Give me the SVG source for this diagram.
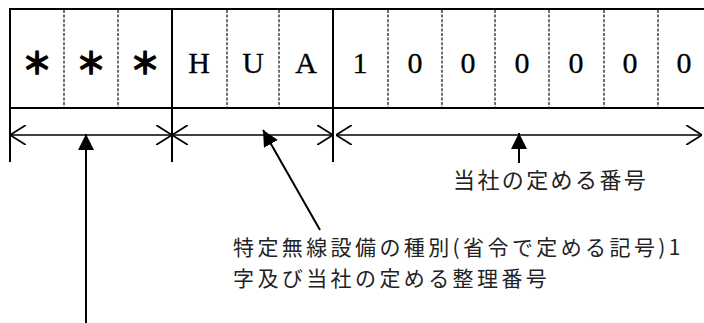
<svg xmlns="http://www.w3.org/2000/svg" width="704" height="323" viewBox="0 0 704 323">
<style>
.frame{stroke:#000;stroke-width:2;fill:none}
.dash{stroke:#222;stroke-width:1.3;stroke-dasharray:3 1.6;fill:none}
.dim{stroke:#000;stroke-width:1.6;fill:none}
.ptr{stroke:#000;stroke-width:2;fill:none}
.cell{font-family:"Liberation Serif","Noto Sans CJK JP",serif;font-size:30px;text-anchor:middle;fill:#000;stroke:#000;stroke-width:0.3}
.star{font-family:"Noto Sans CJK JP",sans-serif;font-size:30px;font-weight:bold;text-anchor:middle;fill:#000;stroke:#000;stroke-width:1.2}
.lbl{font-family:"Noto Sans CJK JP",sans-serif;font-size:21px;letter-spacing:3.4px;fill:#222}
.lbl1{font-family:"Noto Sans CJK JP",sans-serif;font-size:22px;letter-spacing:2.4px;fill:#222}
</style>
<defs>
<marker id="open" viewBox="0 0 16 20" refX="16" refY="10" markerWidth="16" markerHeight="20" markerUnits="userSpaceOnUse" orient="auto-start-reverse">
<path d="M0,0 L16,10 L0,20" fill="none" stroke="#000" stroke-width="1.8"/>
</marker>
<marker id="solid" viewBox="0 0 16 16" refX="16" refY="8" markerWidth="16" markerHeight="16" markerUnits="userSpaceOnUse" orient="auto">
<path d="M0,0 L16,8 L0,16 z" fill="#000"/>
</marker>
</defs>
<rect width="704" height="323" fill="#fff"/>
<g id="code-box">
<line class="frame" x1="9" y1="9" x2="704" y2="9"/>
<line class="frame" x1="9" y1="108" x2="704" y2="108"/>
<line class="frame" x1="10" y1="8" x2="10" y2="162"/>
<line class="frame" x1="172" y1="8" x2="172" y2="162"/>
<line class="frame" x1="333" y1="8" x2="333" y2="162"/>
<line class="dash" x1="64" y1="10" x2="64" y2="107"/>
<line class="dash" x1="118" y1="10" x2="118" y2="107"/>
<line class="dash" x1="227" y1="10" x2="227" y2="107"/>
<line class="dash" x1="279" y1="10" x2="279" y2="107"/>
<line class="dash" x1="388" y1="10" x2="388" y2="107"/>
<line class="dash" x1="442" y1="10" x2="442" y2="107"/>
<line class="dash" x1="495" y1="10" x2="495" y2="107"/>
<line class="dash" x1="549" y1="10" x2="549" y2="107"/>
<line class="dash" x1="604" y1="10" x2="604" y2="107"/>
<line class="dash" x1="658" y1="10" x2="658" y2="107"/>
<text class="star" x="37" y="74">＊</text>
<text class="star" x="91" y="74">＊</text>
<text class="star" x="145" y="74">＊</text>
<text class="cell" x="199" y="73">H</text>
<text class="cell" x="253" y="73">U</text>
<text class="cell" x="306" y="73">A</text>
<text class="cell" x="360" y="73">1</text>
<text class="cell" x="415" y="73">0</text>
<text class="cell" x="468" y="73">0</text>
<text class="cell" x="522" y="73">0</text>
<text class="cell" x="576" y="73">0</text>
<text class="cell" x="630" y="73">0</text>
<text class="cell" x="684" y="73">0</text>
</g>
<g id="label-number">
<text class="lbl1" x="453" y="188">当社の定める番号</text>
</g>
<g id="label-type">
<text class="lbl" x="233" y="255">特定無線設備の種別(省令で定める記号)1</text>
<text class="lbl" x="233" y="286">字及び当社の定める整理番号</text>
</g>
<g id="connectors">
<line class="dim" x1="10" y1="135" x2="172" y2="135" marker-start="url(#open)" marker-end="url(#open)"/>
<line class="dim" x1="172" y1="135" x2="333" y2="135" marker-start="url(#open)" marker-end="url(#open)"/>
<line class="dim" x1="336" y1="135" x2="702" y2="135" marker-start="url(#open)" marker-end="url(#open)"/>
<line class="ptr" x1="86" y1="323" x2="86" y2="134" marker-end="url(#solid)"/>
<line class="ptr" x1="320" y1="230" x2="263" y2="130" marker-end="url(#solid)"/>
<line class="ptr" x1="519" y1="163" x2="519" y2="133" marker-end="url(#solid)"/>
</g>
</svg>
